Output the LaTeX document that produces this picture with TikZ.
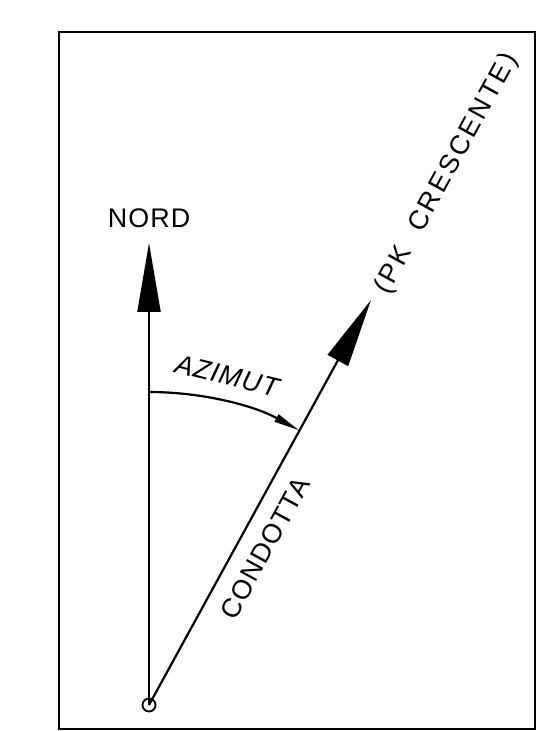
\documentclass[tikz,border=0pt]{standalone}
\usepackage{fontspec}
\newfontfamily\cadfont[LetterSpace=4]{Liberation Sans}
\newfontfamily\cadwide[LetterSpace=10]{Liberation Sans}
\usetikzlibrary{arrows.meta}

\begin{document}
\begin{tikzpicture}[x=1bp,y=1bp,
        every node/.style={font=\cadfont\fontsize{27}{32}\selectfont, inner sep=0pt},
        axisline/.style={line width=2.2bp},
        bigtip/.style={-{Triangle[length=69bp,width=23bp]}},
        arctip/.style={-{Triangle[length=26bp,width=8bp]}}]
        \useasboundingbox (0,0) rectangle (541,731);

        % Frame
        \draw[line width=2.5bp] (59,2) rectangle (535,699);

        % Points
        \coordinate (O) at (149,26);
        \coordinate (N) at (149,488);
        \coordinate (C) at (371,431);
        \coordinate (A) at (149,339);

        % Origin
        \draw[line width=1.8bp] (O) circle[radius=6.5bp];

        % Arrows
        \draw[axisline, bigtip] (O) -- (N);
        \draw[axisline, bigtip] (O) -- (C);
        \draw[axisline, arctip] (A) arc[start angle=90, end angle=61.3, radius=313bp];

        % Labels
        \node (nord) at (149,513) {NORD};
        \node[rotate=-14] (azimut) at (227,355) {\itshape AZIMUT};
        \node[rotate=61.3] (condotta) at (265,183) {CONDOTTA};
        \node[rotate=61.3, font=\cadwide\fontsize{27}{32}\selectfont] (pk) at (447,557) {(PK\ \ CRESCENTE)};
    \end{tikzpicture}
\end{document}
